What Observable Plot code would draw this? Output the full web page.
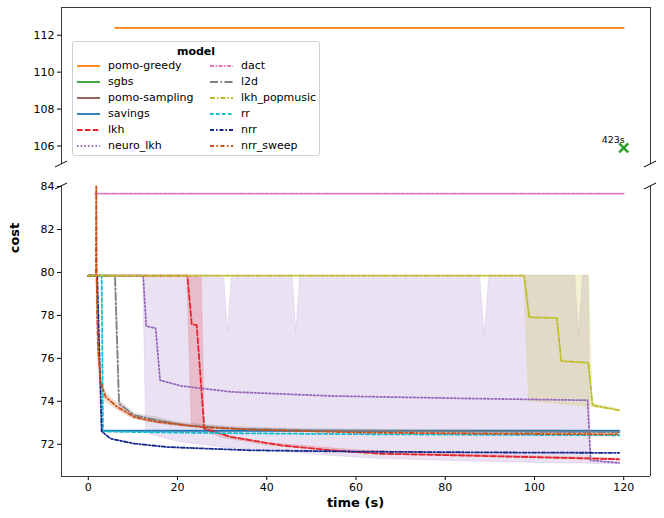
<!DOCTYPE html>
<html><head><meta charset="utf-8">
<script src="https://cdn.jsdelivr.net/npm/d3@7"></script>
<script src="https://cdn.jsdelivr.net/npm/@observablehq/plot@0.6"></script>
<style>
body{margin:0;background:#fff;font-family:"DejaVu Sans",sans-serif;}
#wrap{position:relative;width:664px;height:518px;overflow:hidden;background:#fff;}
#top,#bottom{position:absolute;left:0;}
#top{top:0px;}
#bottom{top:184px;}
#legend{position:absolute;left:72px;top:41px;width:246px;height:113px;border:1px solid #d0d0d0;border-radius:3px;background:rgba(255,255,255,0.85);font-size:11px;color:#000;}
#legend .title{position:absolute;left:0;right:0;top:3px;text-align:center;font-weight:bold;}
#legend .item{position:absolute;height:14px;line-height:14px;white-space:nowrap;}
#legend svg{position:absolute;left:0;top:0;}
#legend .item span{position:absolute;left:31px;top:0;}
#xlabel{position:absolute;left:61px;width:589px;top:495px;text-align:center;font-weight:bold;font-size:13px;}
#ylabel{position:absolute;left:14px;top:238px;transform:translate(-50%,-50%) rotate(-90deg);font-weight:bold;font-size:13px;white-space:nowrap;}
</style></head>
<body>
<div id="wrap">
  <div id="top"></div>
  <div id="bottom"></div>
  <div id="legend"><div class="title">model</div></div>
  <div id="xlabel">time (s)</div>
  <div id="ylabel">cost</div>
</div>
<script>
// ---------- axes / ticks ----------
const xDomain = [-6, 126];
const topDomain = [105, 113.5];
const botDomain = [70.5, 84];
const xTicks = [0, 20, 40, 60, 80, 100, 120];
const topTicks = [106, 108, 110, 112];
const botTicks = [72, 74, 76, 78, 80, 82, 84];

// ---------- legend ----------
const models = ["pomo-greedy","sgbs","pomo-sampling","savings","lkh","neuro_lkh","dact","l2d","lkh_popmusic","rr","nrr","nrr_sweep"];
const colors = ["#ff7f0e","#2ca02c","#8c564b","#1f77b4","#e3262b","#9467bd","#e377c2","#7f7f7f","#bcbd22","#17becf","#15288c","#cc4f1a"];
const dashes = [null,null,null,null,"5.5,2.4","1.5,2.2","4,1.5,1.5,1.5","8,2.5,1.5,2.5","5,2,1.5,2","3.5,2.5","4,2,1.5,2","4,2.5,1.5,2.5"];

// ---------- top panel ----------
const tGreedy = [6.0, 120];
const vGreedy = [112.4, 112.4];
const tSgbs = [120];
const vSgbs = [105.9];
const sgbsLabel = ["423s"];

// ---------- bottom panel: lines ----------
const tSavings = [3.2, 119];
const vSavings = [72.62, 72.62];
const tLkh = [0, 22.2, 23.2, 24.3, 26.0, 32, 43.2, 54.4, 65.5, 85.8, 100, 110.3, 119];
const vLkh = [79.85, 79.85, 77.58, 77.55, 72.73, 72.34, 71.95, 71.72, 71.56, 71.47, 71.4, 71.35, 71.3];
const tNeuro = [0, 12.3, 13.0, 15.1, 16.1, 20.7, 32, 54.4, 85.8, 111.9, 112.6, 119];
const vNeuro = [79.85, 79.85, 77.5, 77.4, 74.98, 74.72, 74.44, 74.25, 74.13, 74.05, 71.25, 71.13];
const tDact = [1.5, 120];
const vDact = [83.67, 83.67];
const tL2d = [0, 6.0, 6.9, 10.3, 15.5, 21.5, 32.7, 50, 80, 119];
const vL2d = [79.85, 79.85, 73.9, 73.35, 73.12, 72.89, 72.73, 72.65, 72.6, 72.56];
const tPop = [0, 97.7, 98.8, 105, 106, 112.1, 113, 119];
const vPop = [79.85, 79.85, 77.91, 77.88, 75.88, 75.79, 73.82, 73.58];
const tRr = [0, 3.0, 3.3, 10, 30, 60, 90, 119];
const vRr = [79.85, 79.85, 72.6, 72.57, 72.52, 72.47, 72.44, 72.42];
const tNrr = [0, 2.0, 3.0, 5, 10.3, 17.8, 36.4, 60, 90, 119];
const vNrr = [79.85, 79.85, 72.6, 72.26, 72.03, 71.87, 71.72, 71.66, 71.62, 71.6];
const tSweep = [0, 1.7, 1.8, 1.9, 2.0, 2.2, 2.8, 3.9, 6.5, 10.3, 15.5, 25.2, 36.4, 60, 90, 119];
const vSweep = [79.85, 79.85, 84.0, 79.5, 78.0, 76.4, 74.85, 74.2, 73.74, 73.27, 73.04, 72.8, 72.68, 72.55, 72.49, 72.46];

// ---------- bottom panel: bands (lo / hi) ----------
const bNeuroT = [12.3, 13.0, 14, 20, 30.45, 31.3, 32.2, 45.8, 46.6, 47.5, 55, 65.5, 85, 87.8, 88.85, 89.9, 100, 109.1, 110, 110.9, 112.1, 112.6, 119];
const bNeuroLo = [79.85, 72.6, 72.45, 72.12, 71.84, 71.82, 71.8, 71.6, 71.6, 71.58, 71.45, 71.32, 71.2, 71.19, 71.19, 71.18, 71.13, 71.1, 71.1, 71.1, 71.09, 71.08, 71.07];
const bNeuroHi = [79.85, 79.85, 79.85, 79.85, 79.85, 77.24, 79.85, 79.85, 77.19, 79.85, 79.85, 79.85, 79.85, 79.85, 77.08, 79.85, 79.85, 79.85, 77.1, 79.85, 79.85, 71.25, 71.17];
const bLkhT = [22.2, 23.2, 25.4, 26.1, 30, 40, 60, 85, 119];
const bLkhLo = [79.85, 72.96, 72.8, 72.62, 72.3, 71.95, 71.6, 71.43, 71.26];
const bLkhHi = [79.85, 79.85, 79.85, 72.85, 72.44, 72.06, 71.72, 71.52, 71.34];
const bPopT = [97.7, 98.8, 112.3, 113.0, 119];
const bPopLo = [79.85, 74.0, 73.74, 73.72, 73.56];
const bPopHi = [79.85, 79.85, 79.85, 73.9, 73.62];
const bL2dT = [6.0, 6.9, 10.3, 13, 15.5, 18, 21.5, 32.7, 50, 80, 119];
const bL2dLo = [79.85, 73.75, 73.22, 73.05, 72.98, 72.88, 72.8, 72.66, 72.6, 72.55, 72.52];
const bL2dHi = [79.85, 74.05, 73.45, 73.32, 73.26, 73.1, 72.98, 72.8, 72.7, 72.65, 72.61];
const bSweepT = [1.8, 2.2, 2.8, 3.9, 6.5, 10.3, 15.5, 25.2, 36.4, 60, 119];
const bSweepLo = [79.5, 76.1, 74.6, 74.0, 73.6, 73.17, 72.98, 72.76, 72.65, 72.52, 72.43];
const bSweepHi = [84.0, 76.7, 75.1, 74.4, 73.9, 73.37, 73.1, 72.84, 72.71, 72.58, 72.49];
const bSavT = [3.2, 119];
const bSavLo = [72.58, 72.58];
const bSavHi = [72.67, 72.67];

// ---------- helpers ----------
const rows = (ts, vs) => ts.map((t, i) => ({t, v: vs[i]}));
const bandRows = (ts, lo, hi) => ts.map((t, i) => ({t, lo: lo[i], hi: hi[i]}));
const col = m => colors[models.indexOf(m)];
const dash = m => dashes[models.indexOf(m)];
const lineOf = (m, ts, vs) => Plot.line(rows(ts, vs), {x: "t", y: "v", stroke: col(m), strokeWidth: 1.8, strokeDasharray: dash(m), curve: "linear"});
const bandOf = (m, ts, lo, hi) => Plot.areaY(bandRows(ts, lo, hi), {x: "t", y1: "lo", y2: "hi", fill: col(m), fillOpacity: 0.2, stroke: col(m), strokeOpacity: 0.18, strokeWidth: 0.8});
const baseStyle = {fontFamily: "DejaVu Sans", fontSize: "11px", color: "#000", background: "transparent", overflow: "visible"};
const spine = "#3a3a3a";

// ---------- top plot ----------
const topPlot = Plot.plot({
  width: 664, height: 164, marginTop: 7, marginBottom: 0, marginLeft: 61, marginRight: 14,
  style: baseStyle,
  x: {domain: xDomain, axis: null},
  y: {domain: topDomain, axis: null},
  marks: [
    Plot.axisY({ticks: topTicks, tickSize: 4, tickPadding: 3, label: null}),
    lineOf("pomo-greedy", tGreedy, vGreedy),
    Plot.dot(rows(tSgbs, vSgbs), {x: "t", y: "v", symbol: "times", r: 4.2, stroke: col("sgbs"), strokeWidth: 2.6}),
    Plot.text(rows(tSgbs, vSgbs), {x: "t", y: "v", text: (d, i) => sgbsLabel[i], textAnchor: "end", dx: 1, dy: -8, fontSize: 9.5, fill: "#000"}),
    Plot.ruleX(xDomain, {stroke: spine, strokeWidth: 1}),
    Plot.ruleY([topDomain[1]], {stroke: spine, strokeWidth: 1})
  ]
});
document.getElementById("top").appendChild(topPlot);

// ---------- bottom plot ----------
const botPlot = Plot.plot({
  width: 664, height: 334, marginTop: 2, marginBottom: 42, marginLeft: 61, marginRight: 14,
  style: baseStyle,
  x: {domain: xDomain, axis: null},
  y: {domain: botDomain, axis: null},
  marks: [
    bandOf("neuro_lkh", bNeuroT, bNeuroLo, bNeuroHi),
    bandOf("lkh", bLkhT, bLkhLo, bLkhHi),
    bandOf("lkh_popmusic", bPopT, bPopLo, bPopHi),
    bandOf("l2d", bL2dT, bL2dLo, bL2dHi),
    bandOf("nrr_sweep", bSweepT, bSweepLo, bSweepHi),
    bandOf("savings", bSavT, bSavLo, bSavHi),
    lineOf("savings", tSavings, vSavings),
    lineOf("lkh", tLkh, vLkh),
    lineOf("neuro_lkh", tNeuro, vNeuro),
    lineOf("dact", tDact, vDact),
    lineOf("l2d", tL2d, vL2d),
    lineOf("rr", tRr, vRr),
    lineOf("nrr", tNrr, vNrr),
    lineOf("nrr_sweep", tSweep, vSweep),
    lineOf("lkh_popmusic", tPop, vPop),
    Plot.axisY({ticks: botTicks, tickSize: 4, tickPadding: 3, label: null}),
    Plot.axisX({ticks: xTicks, tickSize: 4, tickPadding: 3, label: null}),
    Plot.ruleX(xDomain, {stroke: spine, strokeWidth: 1}),
    Plot.ruleY([botDomain[0]], {stroke: spine, strokeWidth: 1})
  ]
});
document.getElementById("bottom").appendChild(botPlot);

// ---------- break marks ----------
function breaks(plot, yVal) {
  const sx = plot.scale("x"), sy = plot.scale("y");
  const svg = d3.select(plot.tagName === "svg" ? plot : plot.querySelector("svg"));
  for (const xv of xDomain) {
    const cx = sx.apply(xv), cy = sy.apply(yVal);
    svg.append("line").attr("x1", cx - 6).attr("y1", cy + 3).attr("x2", cx + 6).attr("y2", cy - 3)
      .attr("stroke", "#000").attr("stroke-width", 1);
  }
}
breaks(topPlot, topDomain[0]);
breaks(botPlot, botDomain[1]);

// ---------- legend ----------
const leg = document.getElementById("legend");
models.forEach((m, i) => {
  const c = Math.floor(i / 6), r = i % 6;
  const it = document.createElement("div");
  it.className = "item";
  it.style.left = (c === 0 ? 4 : 137) + "px";
  it.style.top = (17 + r * 15.9) + "px";
  it.innerHTML = `<svg width="26" height="14"><line x1="0" y1="7" x2="23" y2="7" stroke="${colors[i]}" stroke-width="1.8" ${dashes[i] ? `stroke-dasharray="${dashes[i]}"` : ""}/></svg><span>${m}</span>`;
  leg.appendChild(it);
});
</script>
</body></html>
